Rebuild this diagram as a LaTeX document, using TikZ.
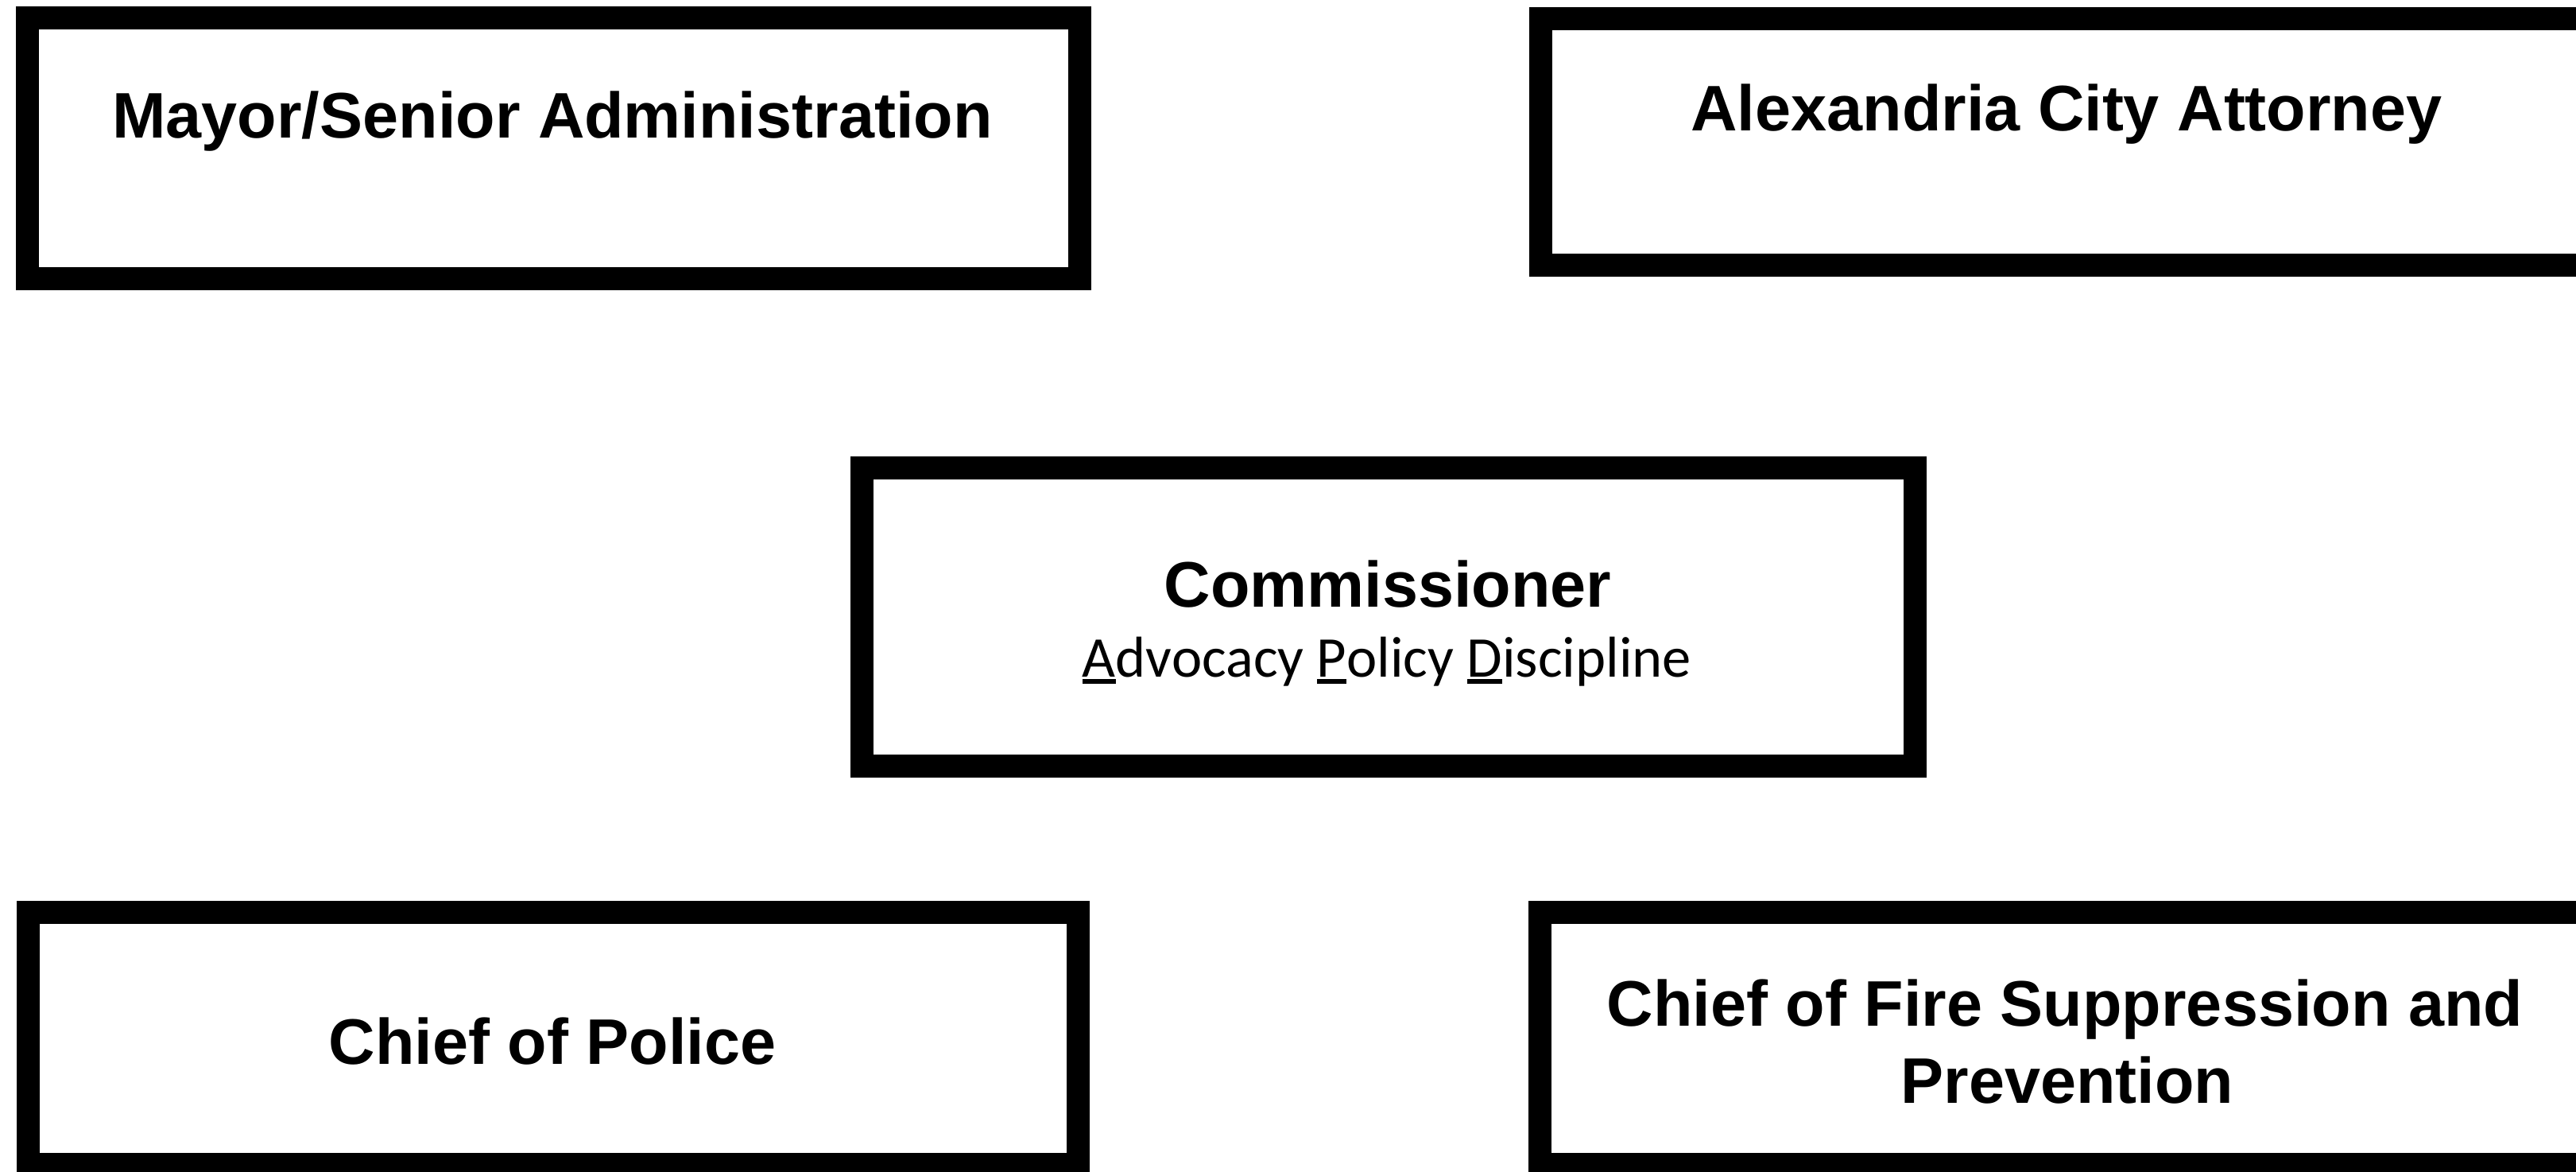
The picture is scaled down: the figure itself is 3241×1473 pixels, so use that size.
\documentclass[tikz,border=0pt]{standalone}
\usepackage{fontspec}
\setmainfont{Liberation Sans}
\newfontfamily\subfont{Carlito}
\newcommand{\apdul}[1]{\setbox0\hbox{#1}\rlap{\rule[-8.5pt]{\wd0}{5.5pt}}\box0}
\begin{document}
\begin{tikzpicture}[x=1pt,y=-1pt,
  orgbox/.style={draw=black,line width=29pt,fill=none},
  boldlabel/.style={font=\fontsize{81}{97}\selectfont\bfseries,anchor=base,inner sep=0pt,align=center},
  sublabel/.style={font=\fontsize{72.5}{88}\selectfont\subfont,anchor=base,inner sep=0pt}]
\useasboundingbox (0,0) rectangle (3241,1473);
\clip (0,0) rectangle (3241,1473);
% boxes
\draw[orgbox] (34.5,22.5) rectangle (1358.5,350.5);
\draw[orgbox] (1938.5,23) rectangle (3320,333);
\draw[orgbox] (1084.5,588) rectangle (2409.5,963);
\draw[orgbox] (35,1147.5) rectangle (1356.5,1464.5);
\draw[orgbox] (1937.5,1147.5) rectangle (3260,1464.5);
% texts
\node[boldlabel] (mayor) at (695,173) {Mayor/Senior Administration};
\node[boldlabel] (attorney) at (2600,164) {Alexandria City Attorney};
\node[boldlabel] (commissioner) at (1746,763) {Commissioner};
\node[sublabel] (apd) at (1745,851) {\apdul{A}dvocacy \apdul{P}olicy \apdul{D}iscipline};
\node[boldlabel] (police) at (695,1338) {Chief of Police};
\node[boldlabel] (fire) at (2598,1290) {Chief of Fire Suppression and};
\node[boldlabel] (fire2) at (2601,1387) {Prevention};
\end{tikzpicture}
\end{document}
